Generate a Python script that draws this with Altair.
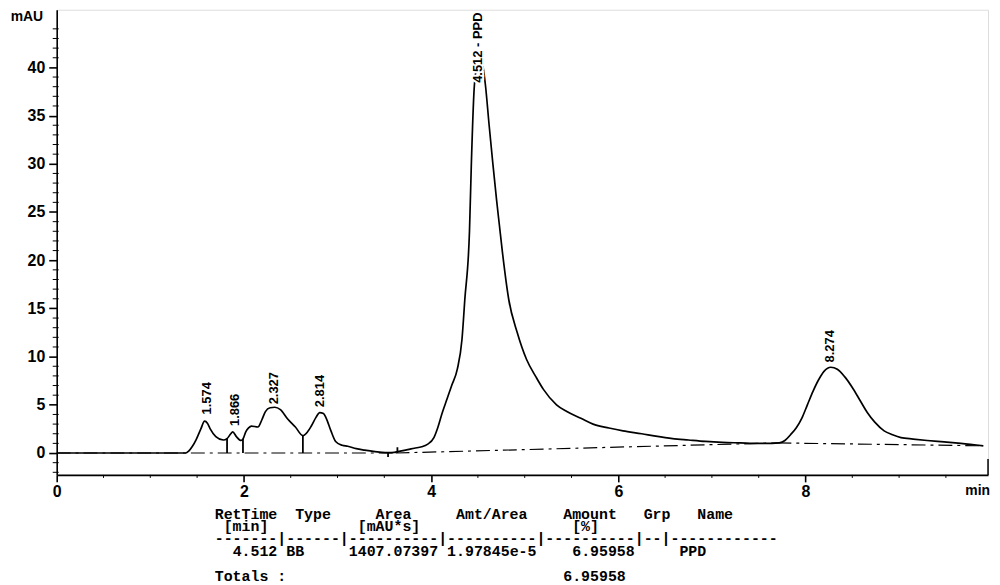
import altair as alt
import pandas as pd

# ---- chromatogram signal (min, mAU) ----
time_min = [0, 1.0, 1.38, 1.41, 1.45, 1.49, 1.54, 1.58, 1.61, 1.64, 1.70, 1.78, 1.82, 1.86, 1.88,
            1.92, 1.97, 1.99, 2.02, 2.05, 2.08, 2.15, 2.19, 2.23, 2.28, 2.33, 2.39, 2.47, 2.55, 2.63,
            2.68, 2.72, 2.77, 2.81, 2.85, 2.88, 2.93, 2.98, 3.05, 3.11, 3.20, 3.29, 3.40, 3.51, 3.58,
            3.67, 3.75, 3.82, 3.90, 3.96, 4.03, 4.07, 4.12, 4.17, 4.22, 4.28, 4.33, 4.36, 4.41, 4.43,
            4.46, 4.49, 4.52, 4.55, 4.58, 4.62, 4.66, 4.70, 4.73, 4.76, 4.83, 4.92, 5.02, 5.12, 5.20,
            5.34, 5.45, 5.60, 5.73, 5.90, 6.05, 6.25, 6.40, 6.58, 6.75, 6.93, 7.11, 7.30, 7.50, 7.64,
            7.72, 7.78, 7.84, 7.90, 7.96, 8.02, 8.08, 8.14, 8.20, 8.27, 8.34, 8.42, 8.50, 8.58, 8.66,
            8.74, 8.84, 8.93, 9.02, 9.15, 9.30, 9.48, 9.66, 9.90]
signal_mau = [0, 0, 0, 0.2, 0.7, 1.4, 2.5, 3.3, 3.1, 2.5, 1.7, 1.35, 1.5, 2.0, 2.2,
              1.7, 1.3, 1.45, 2.2, 2.6, 2.8, 2.7, 3.4, 4.3, 4.7, 4.75, 4.5, 3.5, 2.7, 1.8,
              2.2, 2.8, 3.7, 4.2, 4.1, 3.6, 2.3, 1.2, 0.8, 0.7, 0.45, 0.3, 0.15, 0.05, 0.05,
              0.2, 0.35, 0.5, 0.65, 0.9, 1.6, 2.6, 4.2, 5.6, 7.0, 8.7, 11.8, 15.9, 23.0, 30.0,
              37.8, 40.2, 41.0, 40.3, 38.2, 34.0, 30.0, 26.2, 23.6, 21.0, 15.9, 12.5, 9.7, 7.9, 6.6,
              5.0, 4.3, 3.6, 3.0, 2.6, 2.3, 2.0, 1.75, 1.5, 1.35, 1.2, 1.1, 1.05, 1.0, 1.0,
              1.05, 1.3, 1.9, 2.6, 3.6, 5.0, 6.4, 7.6, 8.5, 8.9, 8.7, 7.9, 6.8, 5.5, 4.2,
              3.2, 2.3, 1.9, 1.6, 1.45, 1.3, 1.15, 1.0, 0.75]

# ---- integration baselines ----
base_seg = ["a", "a", "b", "b", "c", "c"]
base_t = [0, 3.62, 3.62, 7.70, 7.70, 9.90]
base_v = [0, 0, 0, 1.05, 1.05, 0.75]

# ---- drop lines / event marks ----
drop_t = [1.82, 1.99, 2.63, 3.54, 3.64]
drop_top = [1.5, 1.45, 1.8, -0.4, 0.6]

# ---- peak labels ----
peak_text = ["1.574", "1.866", "2.327", "2.814", "4.512 - PPD", "8.274"]
peak_t = [1.61, 1.90, 2.32, 2.81, 4.505, 8.26]
peak_v = [4.0, 2.8, 5.05, 4.75, 38.4, 9.4]

# ---- axes ----
y_ticks = [0, 5, 10, 15, 20, 25, 30, 35, 40]
x_ticks = [0, 2, 4, 6, 8]
y_minor = [v for v in range(-2, 46) if v % 5 != 0]
x_minor = [v / 2 for v in range(1, 20) if v % 4 != 0]

# ---- report table ----
table_lines = [
    "RetTime  Type     Area     Amt/Area    Amount   Grp   Name",
    " [min]          [mAU*s]                 [%]",
    "-------|------|----------|----------|----------|--|------------",
    "  4.512 BB     1407.07397 1.97845e-5    6.95958     PPD",
    "",
    "Totals :                               6.95958",
]

W, H = 937, 468
XD = [0, 9.95]
YD = [-2.27, 45.98]
FONT = "Liberation Sans"
CHAR_W = 9

xs = alt.Scale(domain=XD, nice=False, zero=False)
ys = alt.Scale(domain=YD, nice=False, zero=False)

sig = pd.DataFrame({"t": time_min, "v": signal_mau})
base = pd.DataFrame({"seg": base_seg, "t": base_t, "v": base_v})
drops = pd.DataFrame({"t": drop_t, "v0": [0] * len(drop_t), "v1": drop_top})
peaks = pd.DataFrame({"label": peak_text, "t": peak_t, "v": peak_v})
ymin = pd.DataFrame({"v": y_minor})
xmin = pd.DataFrame({"t": x_minor})
table = pd.DataFrame({
    "line": [s.lstrip(" ").replace(" ", "\u00a0") for s in table_lines],
    "lead": [len(s) - len(s.lstrip(" ")) for s in table_lines],
    "row": list(range(len(table_lines))),
})

signal = alt.Chart(sig).mark_line(color="black", strokeWidth=1.7, clip=True,
                                  interpolate="monotone").encode(
    x=alt.X("t:Q", scale=xs, title=None,
            axis=alt.Axis(values=x_ticks, format="d", grid=False, tickSize=7, labelPadding=2,
                          labelFontSize=16, labelFontWeight="bold", labelFont=FONT,
                          domainColor="black", tickColor="black", labelColor="black",
                          domainWidth=1.6, tickWidth=1.6, labelFlush=False)),
    y=alt.Y("v:Q", scale=ys, title=None,
            axis=alt.Axis(values=y_ticks, format="d", grid=False, tickSize=8, labelPadding=4,
                          labelFontSize=16, labelFontWeight="bold", labelFont=FONT,
                          domainColor="black", tickColor="black", labelColor="black",
                          domainWidth=1.6, tickWidth=1.6)),
)

baseline = alt.Chart(base).mark_line(color="black", strokeWidth=1.2,
                                     strokeDash=[14, 5, 3, 5]).encode(
    x=alt.X("t:Q", scale=xs), y=alt.Y("v:Q", scale=ys), detail="seg:N")

droplines = alt.Chart(drops).mark_rule(color="black", strokeWidth=1.8).encode(
    x=alt.X("t:Q", scale=xs), y=alt.Y("v0:Q", scale=ys), y2="v1:Q")

halo = alt.Chart(peaks).mark_text(angle=270, align="left", baseline="middle",
                                  font=FONT, fontSize=13, fontWeight="bold",
                                  stroke="white", strokeWidth=4, fill="white").encode(
    x=alt.X("t:Q", scale=xs), y=alt.Y("v:Q", scale=ys), text="label:N")

labels = alt.Chart(peaks).mark_text(angle=270, align="left", baseline="middle",
                                    font=FONT, fontSize=13, fontWeight="bold",
                                    color="black").encode(
    x=alt.X("t:Q", scale=xs), y=alt.Y("v:Q", scale=ys), text="label:N")

yminor = alt.Chart(ymin).mark_rule(color="black", strokeWidth=1).encode(
    y=alt.Y("v:Q", scale=ys), x=alt.value(-4), x2=alt.value(2))

xminor = alt.Chart(xmin).mark_rule(color="black", strokeWidth=1).encode(
    x=alt.X("t:Q", scale=xs), y=alt.value(H), y2=alt.value(H + 3))

right_edge = alt.Chart(pd.DataFrame({"a": [0]})).mark_rule(color="black", strokeWidth=1.5).encode(
    x=alt.value(W), y=alt.value(H - 16), y2=alt.value(H))

mau = alt.Chart(pd.DataFrame({"txt": ["mAU"]})).mark_text(
    font=FONT, fontSize=14, fontWeight="bold", color="black", align="center",
    baseline="middle").encode(text="txt:N", x=alt.value(-30), y=alt.value(7))

minlab = alt.Chart(pd.DataFrame({"txt": ["min"]})).mark_text(
    font=FONT, fontSize=14, fontWeight="bold", color="black", align="right",
    baseline="middle").encode(text="txt:N", x=alt.value(W + 2), y=alt.value(H + 16))

tbl = alt.Chart(table).transform_calculate(
    py="507 + datum.row * 12.5",
    px=f"159 + datum.lead * {CHAR_W}",
).mark_text(font="Liberation Mono", fontSize=15, fontWeight="bold", color="black",
            align="left", baseline="middle").encode(
    text="line:N", x=alt.X("px:Q", scale=None), y=alt.Y("py:Q", scale=None))

chart = alt.layer(
    baseline, signal, droplines, yminor, xminor, right_edge, halo, labels, mau, minlab, tbl
).properties(
    width=W, height=H,
    autosize=alt.AutoSizeParams(type="none"),
    padding={"left": 49, "top": 0, "right": 4, "bottom": 109},
).configure_view(stroke=None).configure(background="white")

chart.save("out.html", embed_options={"renderer": "svg", "actions": False})
